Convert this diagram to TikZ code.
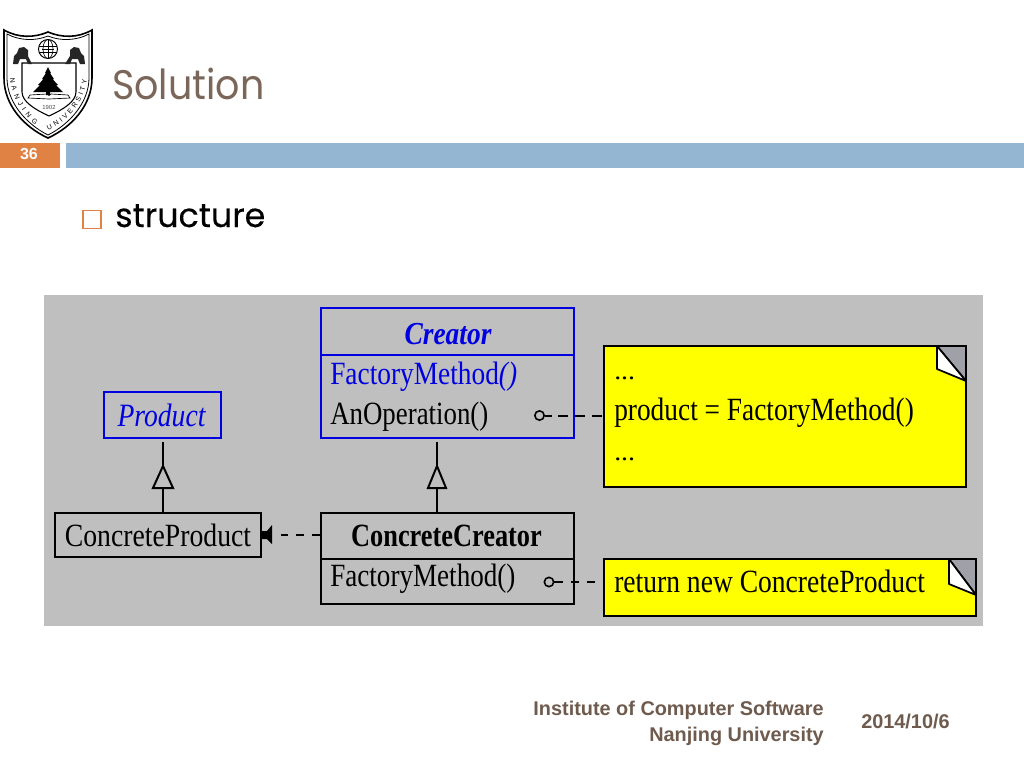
\documentclass[tikz,border=0pt]{standalone}
\usepackage{fontspec}
\usetikzlibrary{decorations.text}
\setmainfont{Liberation Serif}
\newfontfamily\titlef{Poppins}
\newfontfamily\bulletf[FakeBold=0.25]{Poppins}
\newfontfamily\armf{Liberation Sans}
\definecolor{titlebrown}{HTML}{7B675A}
\definecolor{orangebar}{HTML}{DF8244}
\definecolor{bluebar}{HTML}{94B6D2}
\definecolor{panel}{HTML}{BFBFBF}
\definecolor{umlblue}{HTML}{0000E0}
\definecolor{foot}{HTML}{6F5B4E}
\definecolor{foldgray}{HTML}{A0A0A8}
\definecolor{noteyellow}{HTML}{FFFF00}
\newcommand{\stretchtxt}[3]{\scalebox{#1}[#2]{#3}}
\tikzset{
  x=0.75pt,y=-0.75pt,
  bluebox/.style={draw=umlblue,line width=1.9pt,inner sep=0pt},
  blackbox/.style={draw=black,line width=1.7pt,inner sep=0pt},
  solidln/.style={draw=black,line width=1.6pt},
  inher/.style={draw=black,line width=1.5pt,fill=panel,line join=miter},
  notebox/.style={draw=black,line width=1.6pt,fill=noteyellow,inner sep=0pt},
  foldst/.style={draw=black,line width=1.3pt,line join=round},
  ballst/.style={draw=black,line width=1.2pt,fill=panel,circle,inner sep=0pt,minimum size=7pt},
  linkln/.style={line width=1.5pt},
  mtext/.style={inner sep=0pt,anchor=base west,font=\fontsize{19}{19}\selectfont},
  ctext/.style={inner sep=0pt,anchor=base,font=\fontsize{19}{19}\selectfont},
  foottxt/.style={inner sep=0pt,text=foot,font=\armf\bfseries\fontsize{14.9}{15}\selectfont}
}
\begin{document}
\begin{tikzpicture}
\useasboundingbox (0,0) rectangle (1024,768);
\fill[white] (0,0) rectangle (1024,768);
% logo
\draw[line width=1.2pt,fill=white] (4,30) .. controls (18,38) and (34,38) .. (48,32) .. controls (62,38) and (78,38) .. (92,30)
  -- (92,78) .. controls (92,105) and (72,127) .. (48,138) .. controls (24,127) and (4,105) .. (4,78) -- cycle;
\draw[line width=0.6pt] (7,34) .. controls (20,41) and (36,41) .. (48,36) .. controls (60,41) and (76,41) .. (89,34)
  -- (89,78) .. controls (89,102) and (70,124) .. (48,135) .. controls (26,124) and (7,102) .. (7,78) -- cycle;
\draw[line width=0.8pt] (22,63) -- (76,63) -- (76,92) .. controls (76,102) and (62,110) .. (49,116) .. controls (36,110) and (22,102) .. (22,92) -- cycle;
\fill[black] (48,67) -- (51,73) -- (50,73) -- (54,79) -- (52.5,79) -- (58,85) -- (56,85) -- (63,92) -- (50,92) -- (50,95) -- (46,95) -- (46,92) -- (33,92) -- (40,85) -- (38,85) -- (43.5,79) -- (42,79) -- (46,73) -- (45,73) -- cycle;
\draw[line width=0.5pt] (30,95) -- (47,94) -- (49,95.5) -- (51,94) -- (68,95) -- (70,98) -- (49,99) -- (28,98) -- cycle;
\node[inner sep=0pt,font=\armf\fontsize{4.4}{5}\selectfont,text=black!70] (year) at (49,107) {1902};
\draw[line width=0.7pt] (48,49) circle (9.5);
\draw[line width=0.5pt] (39,46) -- (57,46) (39,52) -- (57,52) (48,39.5) -- (48,58.5) (42,49) -- (54,49);
\draw[line width=0.5pt] (48,49) ellipse (5 and 9.5);
\fill[black!85] (13,64) -- (14,56) -- (17,53) -- (19,48) -- (24,47) -- (28,50) -- (28,56) -- (32,64) -- (28,64) -- (26,59) -- (20,59) -- (18,64) -- cycle;
\fill[black!85] (85,64) -- (84,56) -- (81,53) -- (79,48) -- (74,47) -- (70,50) -- (70,56) -- (65,64) -- (70,64) -- (72,59) -- (78,59) -- (80,64) -- cycle;
\path[postaction={decorate},decoration={text along path,text align={fit to path},
  text={|\armf\fontsize{5.2}{6}\selectfont|NANJING}}]
  (10,78) .. controls (11,94) and (20,112) .. (35,125);
\path[postaction={decorate},decoration={text along path,text align={fit to path},
  text={|\armf\fontsize{5.2}{6}\selectfont|UNIVERSITY}}]
  (48,130) .. controls (66,123) and (84,104) .. (87,80);
% title and bars
\node[inner sep=0pt,anchor=base west,text=titlebrown,font=\titlef\fontsize{31}{31}\selectfont] (title) at (112,99) {\stretchtxt{0.92}{1}{Solution}};
\fill[orangebar] (0,143) rectangle (60,168);
\fill[bluebar] (66,143) rectangle (1024,168);
\node[inner sep=0pt,text=white,font=\armf\bfseries\fontsize{12}{12}\selectfont] (num) at (29,154) {36};
\draw[orangebar,line width=1.2pt] (83,210.5) rectangle (101,228.5);
\node[inner sep=0pt,anchor=base west,text=black,font=\bulletf\fontsize{25}{25}\selectfont] (bullet) at (115,227) {structure};
% panel
\fill[panel] (44,295) rectangle (983,626);
% classes
\node[bluebox,minimum width=190pt,minimum height=97.5pt] (creator) at (447.5,373) {};
\draw[umlblue,line width=1.9pt] (creator.west |- 0,355) -- (creator.east |- 0,355);
\node[bluebox,minimum width=87.75pt,minimum height=34.5pt] (product) at (162.5,415) {};
\node[blackbox,minimum width=154.5pt,minimum height=33pt] (cprod) at (158,535) {};
\node[blackbox,minimum width=189.75pt,minimum height=68.25pt] (ccre) at (447.5,558.5) {};
\draw[line width=1.3pt] (ccre.west |- 0,559) -- (ccre.east |- 0,559);
\node[ctext,text=umlblue,font=\bfseries\itshape\fontsize{20}{20}\selectfont] (t1) at (448,344) {\stretchtxt{1.03}{1.2}{Creator}};
\node[mtext,text=umlblue] (t2) at (330,384) {\stretchtxt{1.08}{1.28}{FactoryMethod\textit{()}}};
\node[mtext] (t3) at (330,424) {\stretchtxt{1.06}{1.28}{AnOperation()}};
\node[ctext,text=umlblue,font=\itshape\fontsize{20}{20}\selectfont] (t4) at (161.5,426) {\stretchtxt{1.035}{1.22}{Product}};
\node[ctext] (t5) at (158,546) {\stretchtxt{1.094}{1.28}{ConcreteProduct}};
\node[ctext,font=\bfseries\fontsize{19}{19}\selectfont] (t6) at (446.5,546) {\stretchtxt{1.04}{1.28}{ConcreteCreator}};
\node[mtext] (t7) at (330,586) {\stretchtxt{1.07}{1.28}{FactoryMethod()}};
% notes
\node[notebox,minimum width=271.5pt,minimum height=105.75pt] (n1) at (785,416.5) {};
\node[notebox,minimum width=279pt,minimum height=42.75pt] (n2) at (790,587.5) {};
\fill[foldgray,foldst] (937,346) -- (966,346) -- (966,381) -- cycle;
\fill[white,foldst] (937,346) -- (937,369) -- (966,381) -- cycle;
\fill[foldgray,foldst] (949,559) -- (976,559) -- (976,595) -- cycle;
\fill[white,foldst] (949,559) -- (949,584) -- (976,595) -- cycle;
\node[mtext] (d1) at (614,379) {\stretchtxt{1.1}{1}{...}};
\node[mtext] (d2) at (614,420) {\stretchtxt{1.08}{1.28}{product = FactoryMethod()}};
\node[mtext] (d3) at (614,460) {\stretchtxt{1.1}{1}{...}};
\node[mtext] (d4) at (614,592) {\stretchtxt{1.088}{1.28}{return new ConcreteProduct}};
% inheritance
\coordinate (g1) at (163,442); \coordinate (a1) at (163,466); \coordinate (b1) at (163,488);
\draw[solidln] (g1) -- (a1) (b1) -- (b1 |- cprod.north);
\draw[inher] (a1) -- (173,488) -- (153,488) -- cycle;
\coordinate (g2) at (437,442); \coordinate (a2) at (437,466); \coordinate (b2) at (437,488);
\draw[solidln] (g2) -- (a2) (b2) -- (b2 |- ccre.north);
\draw[inher] (a2) -- (446,488) -- (428,488) -- cycle;
% dependency
\coordinate (dpa) at (281,534.5);
\draw[linkln,dash pattern=on 6pt off 6pt] (ccre.west |- dpa) -- (dpa);
\fill[black] (261,531) -- (267,531) -- (272,525) -- (272,544) -- (267,539) -- (261,539) -- cycle;
% note links
\node[ballst] (ball1) at (539.5,415.5) {};
\node[ballst] (ball2) at (549,582) {};
\coordinate (e1) at (552,415.5); \coordinate (e2) at (563,582);
\draw[linkln] (ball1) -- (e1);
\draw[linkln] (ball2) -- (e2);
\coordinate (f1) at (602,415.5); \coordinate (h1) at (558,415.5);
\draw[linkln,dash pattern=on 7.5pt off 5.25pt] (f1) -- (h1);
\coordinate (f2) at (595,582); \coordinate (h2) at (571,582);
\draw[linkln,dash pattern=on 6.2pt off 5.5pt] (f2) -- (h2);
% footer
\node[foottxt,anchor=base east] (f3) at (824,715.5) {Institute of Computer Software};
\node[foottxt,anchor=base east] (f4) at (824,741) {Nanjing University};
\node[foottxt,anchor=base west] (f5) at (861,728) {2014/10/6};
\end{tikzpicture}
\end{document}
